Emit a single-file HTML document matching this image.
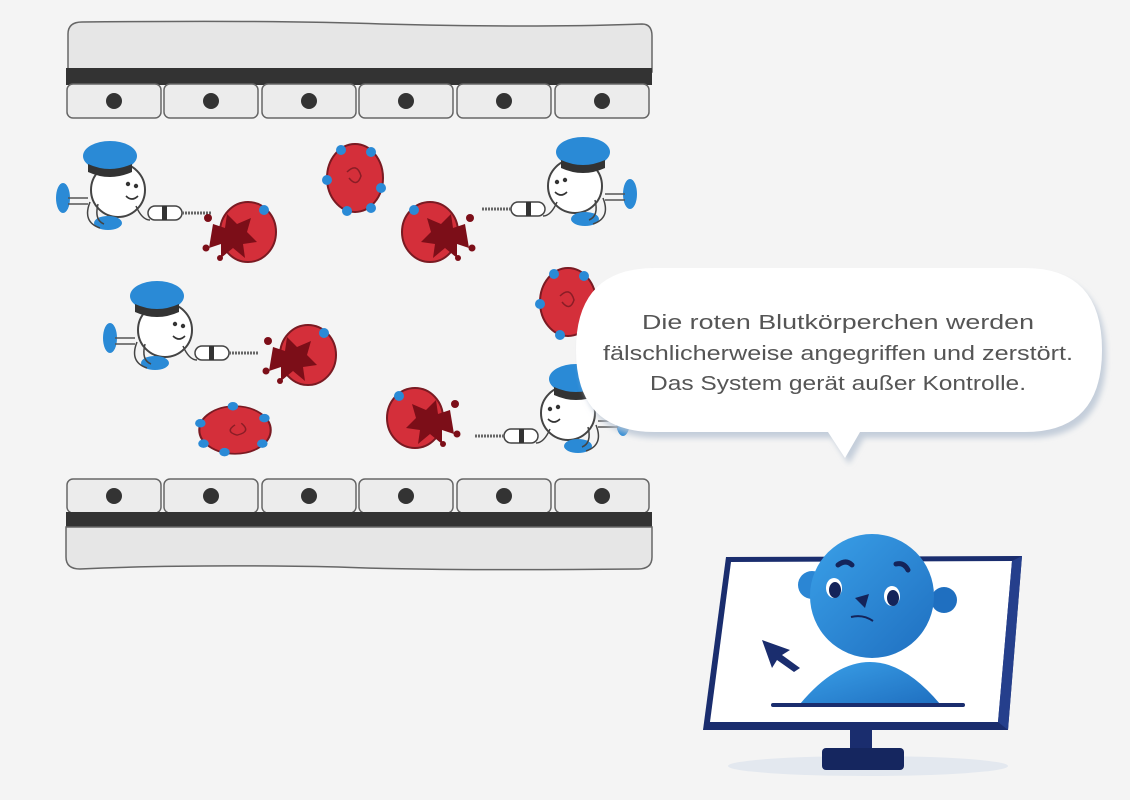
<!DOCTYPE html>
<html><head><meta charset="utf-8"><style>
html,body{margin:0;padding:0;background:#f4f4f4;}
svg{display:block}
text{font-family:"Liberation Sans",sans-serif;}
</style></head><body>
<svg width="1130" height="800" viewBox="0 0 1130 800" xmlns="http://www.w3.org/2000/svg">
<defs>
<linearGradient id="hg" x1="0" y1="0" x2="1" y2="1"><stop offset="0" stop-color="#3aa0e8"/><stop offset="1" stop-color="#1f6fc0"/></linearGradient>
<g id="rbc"><ellipse cx="0" cy="0" rx="28" ry="34" fill="#d42f3a" stroke="#7a1a22" stroke-width="2"/><path d="M-8 -6 q10 -10 14 4 q-4 12 -12 2" fill="none" stroke="#8a1d26" stroke-width="1.5"/>
<circle cx="-14" cy="-28" r="5" fill="#2a8ad6"/><circle cx="16" cy="-26" r="5" fill="#2a8ad6"/><circle cx="-28" cy="2" r="5" fill="#2a8ad6"/><circle cx="26" cy="10" r="5" fill="#2a8ad6"/><circle cx="-8" cy="33" r="5" fill="#2a8ad6"/><circle cx="16" cy="30" r="5" fill="#2a8ad6"/></g>
<g id="cop">
<ellipse cx="-55" cy="8" rx="7" ry="15" fill="#2a8ad6"/>
<path d="M-50 8 h20 M-50 14 h20" stroke="#555" stroke-width="1.5"/>
<circle cx="0" cy="0" r="27" fill="#fff" stroke="#444" stroke-width="2"/>
<ellipse cx="-8" cy="-34" rx="27" ry="15" fill="#2a8ad6"/>
<path d="M-30 -26 q22 10 44 0 v8 q-22 10 -44 0z" fill="#333"/>
<circle cx="10" cy="-6" r="2.2" fill="#333"/><circle cx="18" cy="-4" r="2.2" fill="#333"/>
<path d="M8 6 q6 6 12 0" fill="none" stroke="#333" stroke-width="1.6"/>
<ellipse cx="-10" cy="33" rx="14" ry="7" fill="#2a8ad6"/>
<path d="M-28 12 q-8 20 10 26 M-20 14 q-4 16 6 20 M18 16 q6 14 14 14" fill="none" stroke="#444" stroke-width="1.5"/>
<rect x="30" y="16" width="34" height="14" rx="7" fill="#fff" stroke="#444" stroke-width="1.5"/>
<rect x="44" y="16" width="5" height="14" fill="#333"/>
<path d="M64 23 h30" stroke="#666" stroke-width="3" stroke-dasharray="2 1"/>
</g>
<g id="splat">
<ellipse cx="10" cy="0" rx="28" ry="30" fill="#d42f3a" stroke="#7a1a22" stroke-width="2"/>
<path d="M-25 -8 l12 4 l2 -14 l10 10 l14 -6 l-4 14 l10 10 l-14 2 l2 14 l-12 -10 l-12 10 l0 -14 l-12 4 z" fill="#7c0e18"/>
<circle cx="-30" cy="-14" r="4" fill="#7c0e18"/><circle cx="-32" cy="16" r="3.5" fill="#7c0e18"/><circle cx="-18" cy="26" r="3" fill="#7c0e18"/>
<circle cx="26" cy="-22" r="5" fill="#2a8ad6"/>
</g>
<filter id="sh" x="-10%" y="-20%" width="120%" height="150%"><feDropShadow dx="4" dy="6" stdDeviation="3" flood-color="#b8c4d4" flood-opacity="0.8"/></filter>
</defs>

<!-- top vessel -->
<path d="M68 34 q0 -12 14 -12 q200 -2 300 2 q150 4 260 0 q10 0 10 12 v36 h-584z" fill="#e6e6e6" stroke="#666" stroke-width="1.5"/>
<rect x="66" y="68" width="586" height="17" fill="#333"/>
<g fill="#ececec" stroke="#666" stroke-width="1.5">
<rect x="67" y="84" width="94" height="34" rx="6"/><rect x="164" y="84" width="94" height="34" rx="6"/><rect x="262" y="84" width="94" height="34" rx="6"/><rect x="359" y="84" width="94" height="34" rx="6"/><rect x="457" y="84" width="94" height="34" rx="6"/><rect x="555" y="84" width="94" height="34" rx="6"/>
</g>
<g fill="#333"><circle cx="114" cy="101" r="8"/><circle cx="211" cy="101" r="8"/><circle cx="309" cy="101" r="8"/><circle cx="406" cy="101" r="8"/><circle cx="504" cy="101" r="8"/><circle cx="602" cy="101" r="8"/></g>

<!-- bottom vessel -->
<g fill="#ececec" stroke="#666" stroke-width="1.5">
<rect x="67" y="479" width="94" height="34" rx="6"/><rect x="164" y="479" width="94" height="34" rx="6"/><rect x="262" y="479" width="94" height="34" rx="6"/><rect x="359" y="479" width="94" height="34" rx="6"/><rect x="457" y="479" width="94" height="34" rx="6"/><rect x="555" y="479" width="94" height="34" rx="6"/>
</g>
<g fill="#333"><circle cx="114" cy="496" r="8"/><circle cx="211" cy="496" r="8"/><circle cx="309" cy="496" r="8"/><circle cx="406" cy="496" r="8"/><circle cx="504" cy="496" r="8"/><circle cx="602" cy="496" r="8"/></g>
<rect x="66" y="512" width="586" height="16" fill="#333"/>
<path d="M66 527 H652 V557 Q652 569 638 569 Q438 571 338 567 Q188 564 80 569 Q66 569 66 557Z" fill="#e6e6e6" stroke="#666" stroke-width="1.5"/>

<!-- RBCs -->
<use href="#rbc" transform="translate(355,178)"/>
<use href="#rbc" transform="translate(235,430) rotate(90) scale(0.85,1.05)"/>
<use href="#rbc" transform="translate(568,302)"/>

<!-- cops -->
<use href="#cop" transform="translate(118,190)"/>
<use href="#cop" transform="translate(575,186) scale(-1,1)"/>
<use href="#cop" transform="translate(165,330)"/>
<use href="#cop" transform="translate(568,413) scale(-1,1)"/>

<!-- splats -->
<use href="#splat" transform="translate(238,232)"/>
<use href="#splat" transform="translate(440,232) scale(-1,1)"/>
<use href="#splat" transform="translate(298,355)"/>
<use href="#splat" transform="translate(425,418) scale(-1,1)"/>

<!-- bubble -->
<g filter="url(#sh)">
<path d="M655 268 H1025 Q1102 268 1102 350 Q1102 432 1025 432 H860 L845 458 L828 432 H655 Q576 432 576 350 Q576 268 655 268Z" fill="#fff"/>
</g>
<text x="838" y="329" font-size="20" fill="#555" text-anchor="middle" textLength="392" lengthAdjust="spacingAndGlyphs">Die roten Blutkörperchen werden</text>
<text x="838" y="360" font-size="20" fill="#555" text-anchor="middle" textLength="470" lengthAdjust="spacingAndGlyphs">fälschlicherweise angegriffen und zerstört.</text>
<text x="838" y="390" font-size="20" fill="#555" text-anchor="middle" textLength="376" lengthAdjust="spacingAndGlyphs">Das System gerät außer Kontrolle.</text>

<!-- monitor -->
<ellipse cx="868" cy="766" rx="140" ry="10" fill="#e3e8ef"/>
<rect x="850" y="725" width="22" height="28" fill="#1a2d6e"/>
<rect x="822" y="748" width="82" height="22" rx="4" fill="#15265f"/>
<path d="M726 557 L1022 556 L1008 730 L703 730Z" fill="#1a2d6e"/>
<path d="M731 562 L1012 561 L998 722 L710 722Z" fill="#fff"/>
<path d="M1012 561 L1022 556 L1008 730 L998 722Z" fill="#253f8c"/>
<path d="M800 704 Q870 620 940 704Z" fill="url(#hg)"/>
<line x1="773" y1="705" x2="963" y2="705" stroke="#1a2d6e" stroke-width="4" stroke-linecap="round"/>
<circle cx="812" cy="585" r="14" fill="#2b86d4"/>
<circle cx="944" cy="600" r="13" fill="#1f6fc0"/>
<circle cx="872" cy="596" r="62" fill="url(#hg)"/>
<path d="M838 565 q8 -6 14 0" stroke="#14245a" stroke-width="5" fill="none" stroke-linecap="round"/>
<path d="M896 564 q8 -2 12 6" stroke="#14245a" stroke-width="5" fill="none" stroke-linecap="round"/>
<ellipse cx="834" cy="588" rx="8" ry="10" fill="#fff"/><ellipse cx="835" cy="590" rx="6" ry="8" fill="#14245a"/>
<ellipse cx="892" cy="596" rx="8" ry="10" fill="#fff"/><ellipse cx="893" cy="598" rx="6" ry="8" fill="#14245a"/>
<path d="M855 598 l14 -4 l-4 14z" fill="#14245a"/>
<path d="M851 617 q12 -3 22 4" stroke="#14245a" stroke-width="2" fill="none"/>
<path d="M762 640 L790 650 L782 655 L800 668 L794 672 L777 660 L772 668Z" fill="#1a2d6e"/>
</svg>
</body></html>
